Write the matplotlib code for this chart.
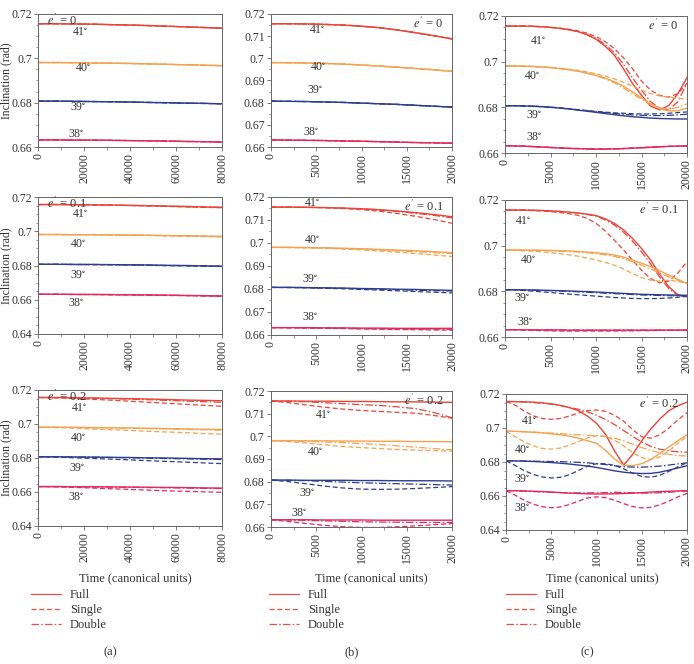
import matplotlib
matplotlib.use("Agg")
import matplotlib.pyplot as plt
from matplotlib.lines import Line2D
from matplotlib.ticker import MultipleLocator, FuncFormatter

plt.rcParams['font.family'] = ['Liberation Serif', 'DejaVu Serif']
plt.rcParams['mathtext.fontset'] = 'stix'

# ---------------- data ----------------
INCLINATIONS = ['41', '40', '39', '38']
ECCENTRICITIES = ['0', '0.1', '0.2']
MODELS = ['Full', 'Single', 'Double']
COLUMN_TAGS = ['(a)', '(b)', '(c)']

T_A = [0, 8000, 16000, 24000, 32000, 40000, 48000, 56000, 64000, 72000, 80000]
T_B = [0, 2000, 4000, 6000, 8000, 10000, 12000, 14000, 16000, 18000, 20000]
T_C = [0, 1000, 2000, 3000, 4000, 5000, 6000, 7000, 8000, 9000, 10000,
       11000, 12000, 13000, 14000, 15000, 16000, 17000, 18000, 19000, 20000]

# column (a), e' = 0
A0_FULL = [[0.7156, 0.7156, 0.7155, 0.7154, 0.7152, 0.7150, 0.7148, 0.7145, 0.7142, 0.7139, 0.7136],
           [0.6981, 0.6981, 0.6980, 0.6979, 0.6978, 0.6977, 0.6975, 0.6973, 0.6971, 0.6969, 0.6967],
           [0.6807, 0.6807, 0.6806, 0.6805, 0.6804, 0.6803, 0.6801, 0.6800, 0.6798, 0.6797, 0.6795],
           [0.6632, 0.6632, 0.6631, 0.6631, 0.6630, 0.6629, 0.6628, 0.6627, 0.6625, 0.6624, 0.6622]]
A0_SINGLE = [[0.7156, 0.7156, 0.7155, 0.7154, 0.7152, 0.7150, 0.7147, 0.7145, 0.7142, 0.7139, 0.7136],
             [0.6981, 0.6981, 0.6980, 0.6979, 0.6978, 0.6976, 0.6975, 0.6973, 0.6971, 0.6969, 0.6967],
             [0.6807, 0.6807, 0.6806, 0.6805, 0.6804, 0.6802, 0.6801, 0.6799, 0.6798, 0.6796, 0.6795],
             [0.6632, 0.6632, 0.6631, 0.6631, 0.6630, 0.6629, 0.6628, 0.6626, 0.6625, 0.6624, 0.6622]]
A0_DOUBLE = [[0.7156, 0.7156, 0.7155, 0.7154, 0.7152, 0.7150, 0.7148, 0.7145, 0.7142, 0.7139, 0.7136],
             [0.6981, 0.6981, 0.6980, 0.6979, 0.6978, 0.6977, 0.6975, 0.6973, 0.6971, 0.6969, 0.6967],
             [0.6807, 0.6807, 0.6806, 0.6805, 0.6804, 0.6803, 0.6801, 0.6800, 0.6798, 0.6797, 0.6795],
             [0.6632, 0.6632, 0.6631, 0.6631, 0.6630, 0.6629, 0.6628, 0.6627, 0.6625, 0.6624, 0.6622]]

# column (a), e' = 0.1
A1_FULL = [[0.7156, 0.7156, 0.7155, 0.7154, 0.7153, 0.7151, 0.7149, 0.7147, 0.7145, 0.7142, 0.7140],
           [0.6981, 0.6981, 0.6980, 0.6980, 0.6979, 0.6978, 0.6977, 0.6975, 0.6974, 0.6972, 0.6970],
           [0.6807, 0.6807, 0.6806, 0.6806, 0.6805, 0.6804, 0.6803, 0.6801, 0.6800, 0.6798, 0.6796],
           [0.6632, 0.6632, 0.6631, 0.6631, 0.6630, 0.6629, 0.6628, 0.6627, 0.6625, 0.6624, 0.6622]]
A1_SINGLE = [[0.7156, 0.7156, 0.7155, 0.7154, 0.7152, 0.7150, 0.7148, 0.7145, 0.7142, 0.7140, 0.7137],
             [0.6981, 0.6981, 0.6980, 0.6979, 0.6978, 0.6977, 0.6975, 0.6973, 0.6971, 0.6969, 0.6967],
             [0.6807, 0.6807, 0.6806, 0.6805, 0.6804, 0.6803, 0.6801, 0.6799, 0.6798, 0.6796, 0.6794],
             [0.6632, 0.6632, 0.6631, 0.6630, 0.6629, 0.6628, 0.6627, 0.6625, 0.6624, 0.6622, 0.6620]]
A1_DOUBLE = [[0.7156, 0.7156, 0.7155, 0.7154, 0.7153, 0.7151, 0.7149, 0.7146, 0.7144, 0.7141, 0.7139],
             [0.6981, 0.6981, 0.6980, 0.6980, 0.6979, 0.6977, 0.6976, 0.6974, 0.6973, 0.6971, 0.6969],
             [0.6807, 0.6807, 0.6806, 0.6806, 0.6805, 0.6803, 0.6802, 0.6800, 0.6799, 0.6797, 0.6795],
             [0.6632, 0.6632, 0.6631, 0.6631, 0.6630, 0.6629, 0.6628, 0.6626, 0.6625, 0.6623, 0.6621]]

# column (a), e' = 0.2
A2_FULL = [[0.7156, 0.7156, 0.7155, 0.7153, 0.7151, 0.7149, 0.7147, 0.7144, 0.7141, 0.7139, 0.7137],
           [0.6981, 0.6981, 0.6980, 0.6979, 0.6978, 0.6977, 0.6975, 0.6973, 0.6971, 0.6969, 0.6968],
           [0.6807, 0.6807, 0.6806, 0.6805, 0.6804, 0.6803, 0.6801, 0.6800, 0.6798, 0.6796, 0.6795],
           [0.6632, 0.6632, 0.6631, 0.6631, 0.6630, 0.6629, 0.6628, 0.6627, 0.6626, 0.6624, 0.6623]]
A2_SINGLE = [[0.7156, 0.7154, 0.7150, 0.7145, 0.7140, 0.7134, 0.7128, 0.7122, 0.7116, 0.7110, 0.7104],
             [0.6981, 0.6979, 0.6975, 0.6970, 0.6966, 0.6962, 0.6957, 0.6953, 0.6949, 0.6944, 0.6940],
             [0.6807, 0.6805, 0.6801, 0.6797, 0.6793, 0.6789, 0.6784, 0.6780, 0.6776, 0.6771, 0.6767],
             [0.6632, 0.6630, 0.6627, 0.6623, 0.6619, 0.6615, 0.6611, 0.6607, 0.6604, 0.6601, 0.6598]]
A2_DOUBLE = [[0.7156, 0.7155, 0.7154, 0.7152, 0.7149, 0.7146, 0.7143, 0.7139, 0.7135, 0.7131, 0.7128],
             [0.6981, 0.6981, 0.6980, 0.6978, 0.6977, 0.6975, 0.6973, 0.6971, 0.6968, 0.6966, 0.6963],
             [0.6807, 0.6807, 0.6806, 0.6805, 0.6803, 0.6801, 0.6799, 0.6797, 0.6795, 0.6793, 0.6791],
             [0.6632, 0.6632, 0.6631, 0.6630, 0.6629, 0.6628, 0.6626, 0.6625, 0.6623, 0.6622, 0.6620]]

# column (b), e' = 0
B0_FULL = [[0.7156, 0.7156, 0.7155, 0.7153, 0.7150, 0.7145, 0.7138, 0.7128, 0.7115, 0.7102, 0.7088],
           [0.6981, 0.6980, 0.6979, 0.6977, 0.6974, 0.6970, 0.6965, 0.6960, 0.6954, 0.6948, 0.6942],
           [0.6807, 0.6806, 0.6805, 0.6803, 0.6801, 0.6798, 0.6795, 0.6792, 0.6788, 0.6784, 0.6780],
           [0.6632, 0.6631, 0.6630, 0.6629, 0.6627, 0.6626, 0.6624, 0.6622, 0.6620, 0.6619, 0.6617]]
B0_SINGLE = [[0.7156, 0.7156, 0.7155, 0.7153, 0.7150, 0.7145, 0.7138, 0.7128, 0.7116, 0.7102, 0.7087],
             [0.6981, 0.6980, 0.6979, 0.6977, 0.6974, 0.6970, 0.6965, 0.6960, 0.6954, 0.6948, 0.6941],
             [0.6807, 0.6806, 0.6805, 0.6803, 0.6801, 0.6798, 0.6795, 0.6792, 0.6788, 0.6784, 0.6780],
             [0.6632, 0.6631, 0.6630, 0.6629, 0.6627, 0.6626, 0.6624, 0.6622, 0.6620, 0.6619, 0.6617]]
B0_DOUBLE = [[0.7156, 0.7156, 0.7155, 0.7153, 0.7150, 0.7145, 0.7138, 0.7128, 0.7115, 0.7102, 0.7088],
             [0.6981, 0.6980, 0.6979, 0.6977, 0.6974, 0.6970, 0.6965, 0.6960, 0.6954, 0.6948, 0.6942],
             [0.6807, 0.6806, 0.6805, 0.6803, 0.6801, 0.6798, 0.6795, 0.6792, 0.6788, 0.6784, 0.6780],
             [0.6632, 0.6631, 0.6630, 0.6629, 0.6627, 0.6626, 0.6624, 0.6622, 0.6620, 0.6619, 0.6617]]

# column (b), e' = 0.1
B1_FULL = [[0.7156, 0.7156, 0.7155, 0.7154, 0.7152, 0.7149, 0.7145, 0.7139, 0.7132, 0.7124, 0.7114],
           [0.6981, 0.6981, 0.6980, 0.6979, 0.6977, 0.6975, 0.6972, 0.6969, 0.6966, 0.6962, 0.6958],
           [0.6807, 0.6807, 0.6806, 0.6805, 0.6804, 0.6802, 0.6801, 0.6799, 0.6798, 0.6796, 0.6794],
           [0.6632, 0.6632, 0.6632, 0.6631, 0.6631, 0.6630, 0.6630, 0.6629, 0.6629, 0.6629, 0.6629]]
B1_SINGLE = [[0.7156, 0.7156, 0.7155, 0.7153, 0.7150, 0.7145, 0.7138, 0.7128, 0.7116, 0.7102, 0.7086],
             [0.6981, 0.6980, 0.6979, 0.6977, 0.6974, 0.6970, 0.6965, 0.6960, 0.6954, 0.6948, 0.6941],
             [0.6807, 0.6806, 0.6805, 0.6803, 0.6801, 0.6798, 0.6795, 0.6792, 0.6789, 0.6786, 0.6783],
             [0.6632, 0.6631, 0.6630, 0.6629, 0.6628, 0.6626, 0.6625, 0.6624, 0.6623, 0.6622, 0.6621]]
B1_DOUBLE = [[0.7156, 0.7156, 0.7155, 0.7154, 0.7151, 0.7148, 0.7143, 0.7137, 0.7129, 0.7120, 0.7109],
             [0.6981, 0.6981, 0.6980, 0.6978, 0.6976, 0.6973, 0.6970, 0.6966, 0.6962, 0.6958, 0.6954],
             [0.6807, 0.6807, 0.6806, 0.6804, 0.6803, 0.6801, 0.6799, 0.6797, 0.6795, 0.6793, 0.6791],
             [0.6632, 0.6632, 0.6631, 0.6630, 0.6629, 0.6628, 0.6627, 0.6626, 0.6626, 0.6625, 0.6625]]

# column (b), e' = 0.2
B2_FULL = [[0.7156, 0.7156, 0.7155, 0.7155, 0.7154, 0.7154, 0.7153, 0.7152, 0.7152, 0.7151, 0.7150],
           [0.6981, 0.6981, 0.6980, 0.6980, 0.6979, 0.6979, 0.6978, 0.6978, 0.6977, 0.6977, 0.6976],
           [0.6807, 0.6807, 0.6806, 0.6806, 0.6806, 0.6805, 0.6805, 0.6804, 0.6804, 0.6804, 0.6803],
           [0.6632, 0.6632, 0.6632, 0.6631, 0.6631, 0.6631, 0.6630, 0.6630, 0.6630, 0.6630, 0.6630]]
B2_SINGLE = [[0.7156, 0.7148, 0.7138, 0.7128, 0.7120, 0.7114, 0.7110, 0.7106, 0.7102, 0.7092, 0.7080],
             [0.6981, 0.6977, 0.6970, 0.6962, 0.6955, 0.6950, 0.6946, 0.6942, 0.6939, 0.6937, 0.6935],
             [0.6807, 0.6800, 0.6790, 0.6780, 0.6772, 0.6767, 0.6766, 0.6767, 0.6770, 0.6774, 0.6778],
             [0.6632, 0.6624, 0.6615, 0.6607, 0.6601, 0.6598, 0.6598, 0.6601, 0.6605, 0.6610, 0.6615]]
B2_DOUBLE = [[0.7156, 0.7155, 0.7152, 0.7148, 0.7144, 0.7140, 0.7136, 0.7130, 0.7122, 0.7105, 0.7082],
             [0.6981, 0.6980, 0.6978, 0.6975, 0.6972, 0.6968, 0.6964, 0.6958, 0.6952, 0.6946, 0.6940],
             [0.6807, 0.6806, 0.6804, 0.6801, 0.6798, 0.6795, 0.6793, 0.6791, 0.6789, 0.6787, 0.6785],
             [0.6632, 0.6631, 0.6629, 0.6627, 0.6625, 0.6623, 0.6622, 0.6621, 0.6620, 0.6620, 0.6620]]

# column (c), e' = 0
C0_FULL = [[0.7156, 0.7156, 0.7156, 0.7155, 0.7153, 0.7150, 0.7146, 0.7140, 0.7132, 0.7118, 0.7098,
            0.7068, 0.7029, 0.6970, 0.6905, 0.6853, 0.6805, 0.6789, 0.6808, 0.6860, 0.6930],
           [0.6981, 0.6981, 0.6980, 0.6979, 0.6977, 0.6974, 0.6970, 0.6965, 0.6959, 0.6950, 0.6940,
            0.6928, 0.6913, 0.6893, 0.6868, 0.6842, 0.6815, 0.6794, 0.6784, 0.6785, 0.6797],
           [0.6807, 0.6807, 0.6806, 0.6805, 0.6803, 0.6800, 0.6797, 0.6793, 0.6788, 0.6783, 0.6778,
            0.6773, 0.6768, 0.6763, 0.6759, 0.6756, 0.6753, 0.6751, 0.6750, 0.6749, 0.6749],
           [0.6632, 0.6631, 0.6630, 0.6628, 0.6626, 0.6624, 0.6622, 0.6620, 0.6619, 0.6618, 0.6617,
            0.6617, 0.6618, 0.6619, 0.6621, 0.6623, 0.6625, 0.6627, 0.6629, 0.6630, 0.6631]]
C0_SINGLE = [[0.7156, 0.7156, 0.7156, 0.7155, 0.7153, 0.7150, 0.7147, 0.7142, 0.7135, 0.7125, 0.7110,
              0.7088, 0.7058, 0.7018, 0.6970, 0.6915, 0.6875, 0.6852, 0.6845, 0.6860, 0.6905],
             [0.6981, 0.6981, 0.6980, 0.6979, 0.6977, 0.6974, 0.6971, 0.6967, 0.6962, 0.6955, 0.6947,
              0.6937, 0.6925, 0.6910, 0.6893, 0.6875, 0.6860, 0.6850, 0.6844, 0.6840, 0.6836],
             [0.6807, 0.6807, 0.6806, 0.6805, 0.6803, 0.6801, 0.6798, 0.6794, 0.6790, 0.6786, 0.6782,
              0.6779, 0.6776, 0.6774, 0.6772, 0.6771, 0.6771, 0.6772, 0.6774, 0.6777, 0.6780],
             [0.6632, 0.6631, 0.6630, 0.6629, 0.6627, 0.6625, 0.6623, 0.6621, 0.6620, 0.6619, 0.6618,
              0.6618, 0.6619, 0.6620, 0.6622, 0.6624, 0.6626, 0.6628, 0.6629, 0.6630, 0.6631]]
C0_DOUBLE = [[0.7156, 0.7156, 0.7156, 0.7155, 0.7153, 0.7150, 0.7146, 0.7140, 0.7132, 0.7120, 0.7102,
              0.7075, 0.7040, 0.6990, 0.6930, 0.6875, 0.6825, 0.6795, 0.6790, 0.6825, 0.6905],
             [0.6981, 0.6981, 0.6980, 0.6979, 0.6977, 0.6974, 0.6970, 0.6965, 0.6958, 0.6949, 0.6938,
              0.6925, 0.6908, 0.6885, 0.6860, 0.6835, 0.6812, 0.6798, 0.6792, 0.6800, 0.6815],
             [0.6807, 0.6807, 0.6806, 0.6805, 0.6803, 0.6800, 0.6797, 0.6793, 0.6789, 0.6785, 0.6781,
              0.6777, 0.6773, 0.6770, 0.6767, 0.6765, 0.6764, 0.6764, 0.6765, 0.6767, 0.6770],
             [0.6632, 0.6631, 0.6630, 0.6628, 0.6626, 0.6624, 0.6622, 0.6620, 0.6619, 0.6618, 0.6617,
              0.6617, 0.6618, 0.6619, 0.6621, 0.6623, 0.6625, 0.6627, 0.6629, 0.6630, 0.6631]]

# column (c), e' = 0.1
C1_FULL = [[0.7156, 0.7156, 0.7156, 0.7155, 0.7154, 0.7152, 0.7150, 0.7147, 0.7143, 0.7138, 0.7132,
            0.7118, 0.7098, 0.7070, 0.7032, 0.6988, 0.6937, 0.6875, 0.6820, 0.6785, 0.6776],
           [0.6981, 0.6981, 0.6981, 0.6980, 0.6980, 0.6979, 0.6978, 0.6977, 0.6975, 0.6972, 0.6969,
            0.6965, 0.6959, 0.6950, 0.6937, 0.6923, 0.6908, 0.6890, 0.6871, 0.6852, 0.6834],
           [0.6807, 0.6807, 0.6806, 0.6806, 0.6805, 0.6804, 0.6803, 0.6802, 0.6800, 0.6799, 0.6797,
            0.6795, 0.6793, 0.6791, 0.6789, 0.6787, 0.6786, 0.6785, 0.6784, 0.6783, 0.6783],
           [0.6632, 0.6632, 0.6632, 0.6631, 0.6631, 0.6631, 0.6631, 0.6630, 0.6630, 0.6630, 0.6630,
            0.6630, 0.6630, 0.6630, 0.6630, 0.6630, 0.6630, 0.6630, 0.6630, 0.6630, 0.6630]]
C1_SINGLE = [[0.7156, 0.7156, 0.7155, 0.7154, 0.7152, 0.7149, 0.7145, 0.7140, 0.7133, 0.7120, 0.7098,
              0.7065, 0.7025, 0.6982, 0.6937, 0.6893, 0.6856, 0.6837, 0.6845, 0.6880, 0.6930],
             [0.6981, 0.6980, 0.6978, 0.6976, 0.6973, 0.6969, 0.6965, 0.6960, 0.6954, 0.6946, 0.6937,
              0.6927, 0.6915, 0.6898, 0.6878, 0.6860, 0.6849, 0.6845, 0.6849, 0.6843, 0.6836],
             [0.6807, 0.6806, 0.6804, 0.6801, 0.6798, 0.6795, 0.6791, 0.6788, 0.6785, 0.6782, 0.6779,
              0.6776, 0.6773, 0.6771, 0.6769, 0.6768, 0.6768, 0.6769, 0.6771, 0.6774, 0.6778],
             [0.6632, 0.6631, 0.6630, 0.6629, 0.6628, 0.6627, 0.6626, 0.6626, 0.6626, 0.6626, 0.6626,
              0.6626, 0.6626, 0.6627, 0.6627, 0.6628, 0.6628, 0.6629, 0.6629, 0.6630, 0.6630]]
C1_DOUBLE = [[0.7156, 0.7156, 0.7156, 0.7155, 0.7154, 0.7152, 0.7150, 0.7147, 0.7143, 0.7137, 0.7129,
              0.7113, 0.7091, 0.7060, 0.7020, 0.6973, 0.6920, 0.6862, 0.6812, 0.6782, 0.6778],
             [0.6981, 0.6981, 0.6980, 0.6980, 0.6979, 0.6978, 0.6976, 0.6974, 0.6972, 0.6969, 0.6965,
              0.6960, 0.6953, 0.6943, 0.6930, 0.6915, 0.6898, 0.6880, 0.6863, 0.6848, 0.6838],
             [0.6807, 0.6807, 0.6806, 0.6805, 0.6804, 0.6803, 0.6801, 0.6800, 0.6798, 0.6796, 0.6794,
              0.6792, 0.6790, 0.6788, 0.6786, 0.6784, 0.6783, 0.6782, 0.6781, 0.6780, 0.6780],
             [0.6632, 0.6632, 0.6632, 0.6631, 0.6631, 0.6631, 0.6631, 0.6630, 0.6630, 0.6630, 0.6630,
              0.6630, 0.6630, 0.6630, 0.6630, 0.6630, 0.6630, 0.6630, 0.6630, 0.6630, 0.6630]]

# column (c), e' = 0.2
C2_FULL = [[0.7156, 0.7155, 0.7154, 0.7152, 0.7148, 0.7142, 0.7133, 0.7120, 0.7102, 0.7070, 0.7028,
            0.6962, 0.6865, 0.6782, 0.6845, 0.6925, 0.6994, 0.7053, 0.7102, 0.7131, 0.7152],
           [0.6981, 0.6980, 0.6978, 0.6975, 0.6971, 0.6966, 0.6960, 0.6952, 0.6940, 0.6925, 0.6910,
            0.6868, 0.6818, 0.6780, 0.6778, 0.6790, 0.6815, 0.6850, 0.6888, 0.6925, 0.6960],
           [0.6807, 0.6806, 0.6805, 0.6803, 0.6800, 0.6797, 0.6793, 0.6788, 0.6782, 0.6776, 0.6768,
            0.6758, 0.6748, 0.6740, 0.6735, 0.6732, 0.6733, 0.6740, 0.6752, 0.6765, 0.6778],
           [0.6632, 0.6631, 0.6630, 0.6628, 0.6626, 0.6623, 0.6620, 0.6617, 0.6615, 0.6613, 0.6612,
            0.6612, 0.6613, 0.6615, 0.6617, 0.6620, 0.6623, 0.6626, 0.6628, 0.6630, 0.6631]]
C2_SINGLE = [[0.7156, 0.7135, 0.7100, 0.7072, 0.7056, 0.7051, 0.7056, 0.7070, 0.7088, 0.7102, 0.7106,
              0.7098, 0.7075, 0.7040, 0.6990, 0.6948, 0.6940, 0.6960, 0.7000, 0.7048, 0.7090],
             [0.6981, 0.6950, 0.6918, 0.6895, 0.6880, 0.6876, 0.6882, 0.6898, 0.6920, 0.6942, 0.6955,
              0.6950, 0.6928, 0.6895, 0.6855, 0.6825, 0.6815, 0.6830, 0.6865, 0.6910, 0.6950],
             [0.6807, 0.6780, 0.6750, 0.6727, 0.6712, 0.6706, 0.6710, 0.6725, 0.6750, 0.6775, 0.6790,
              0.6790, 0.6780, 0.6760, 0.6735, 0.6715, 0.6710, 0.6722, 0.6745, 0.6772, 0.6796],
             [0.6632, 0.6605, 0.6575, 0.6552, 0.6537, 0.6531, 0.6535, 0.6550, 0.6570, 0.6588, 0.6595,
              0.6590, 0.6575, 0.6555, 0.6538, 0.6530, 0.6533, 0.6548, 0.6570, 0.6595, 0.6615]]
C2_DOUBLE = [[0.7156, 0.7155, 0.7153, 0.7150, 0.7146, 0.7140, 0.7132, 0.7122, 0.7110, 0.7095, 0.7075,
              0.7050, 0.7020, 0.6985, 0.6950, 0.6918, 0.6892, 0.6875, 0.6865, 0.6860, 0.6858],
             [0.6981, 0.6980, 0.6978, 0.6976, 0.6973, 0.6970, 0.6967, 0.6963, 0.6960, 0.6957, 0.6955,
              0.6950, 0.6940, 0.6925, 0.6905, 0.6885, 0.6868, 0.6855, 0.6845, 0.6838, 0.6835],
             [0.6807, 0.6807, 0.6806, 0.6805, 0.6804, 0.6803, 0.6802, 0.6800, 0.6798, 0.6795, 0.6790,
              0.6785, 0.6778, 0.6772, 0.6770, 0.6770, 0.6772, 0.6776, 0.6782, 0.6789, 0.6795],
             [0.6632, 0.6630, 0.6628, 0.6626, 0.6624, 0.6622, 0.6620, 0.6619, 0.6618, 0.6618, 0.6619,
              0.6620, 0.6622, 0.6621, 0.6619, 0.6617, 0.6617, 0.6619, 0.6622, 0.6626, 0.6630]]

# ---------------- style ----------------
COLORS = ['#e8443a', '#f5a24e', '#2e3d8e', '#e2295e']
LEGEND_COLOR = '#e6504f'
STYLES = {'Full': '-', 'Single': (0, (4.0, 2.2)), 'Double': (0, (6.0, 1.8, 1.2, 1.8))}
W, H = 694, 664

fig = plt.figure(figsize=(W / 100, H / 100), dpi=100)

def frac(left, top, width, bottom):
    return [left / W, 1 - bottom / H, width / W, (bottom - top) / H]

POS = {
    (0, 0): frac(38, 14, 184, 147), (1, 0): frac(38, 197, 184, 334), (2, 0): frac(38, 390, 184, 526),
    (0, 1): frac(271, 14, 181, 147), (1, 1): frac(271, 197, 181, 335), (2, 1): frac(271, 391, 181, 527),
    (0, 2): frac(505, 16, 182, 153), (1, 2): frac(505, 200, 182, 337), (2, 2): frac(506, 394, 181, 530),
}

PANELS = {
    (0, 0): (T_A, A0_FULL, A0_SINGLE, A0_DOUBLE),
    (1, 0): (T_A, A1_FULL, A1_SINGLE, A1_DOUBLE),
    (2, 0): (T_A, A2_FULL, A2_SINGLE, A2_DOUBLE),
    (0, 1): (T_B, B0_FULL, B0_SINGLE, B0_DOUBLE),
    (1, 1): (T_B, B1_FULL, B1_SINGLE, B1_DOUBLE),
    (2, 1): (T_B, B2_FULL, B2_SINGLE, B2_DOUBLE),
    (0, 2): (T_C, C0_FULL, C0_SINGLE, C0_DOUBLE),
    (1, 2): (T_C, C1_FULL, C1_SINGLE, C1_DOUBLE),
    (2, 2): (T_C, C2_FULL, C2_SINGLE, C2_DOUBLE),
}

# label positions (axes fraction) for 41,40,39,38
LABEL_POS = {
    (0, 0): [(0.23, 0.865), (0.245, 0.594), (0.217, 0.30), (0.207, 0.098)],
    (1, 0): [(0.23, 0.876), (0.22, 0.657), (0.217, 0.43), (0.21, 0.226)],
    (2, 0): [(0.223, 0.868), (0.217, 0.647), (0.212, 0.426), (0.207, 0.213)],
    (0, 1): [(0.254, 0.88), (0.26, 0.60), (0.243, 0.43), (0.22, 0.11)],
    (1, 1): [(0.23, 0.96), (0.23, 0.69), (0.215, 0.405), (0.215, 0.13)],
    (2, 1): [(0.29, 0.82), (0.243, 0.55), (0.20, 0.25), (0.155, 0.10)],
    (0, 2): [(0.18, 0.82), (0.152, 0.56), (0.158, 0.28), (0.158, 0.12)],
    (1, 2): [(0.10, 0.85), (0.125, 0.56), (0.097, 0.285), (0.11, 0.11)],
    (2, 2): [(0.13, 0.80), (0.09, 0.59), (0.09, 0.375), (0.087, 0.16)],
}

SPINE = '#666666'
TXT = '#333333'

for (r, c), (t, full, single, double) in PANELS.items():
    ax = fig.add_axes(POS[(r, c)])
    for i in range(4):
        ax.plot(t, single[i], color=COLORS[i], lw=0.9, linestyle=STYLES['Single'])
        ax.plot(t, double[i], color=COLORS[i], lw=0.9, linestyle=STYLES['Double'])
        ax.plot(t, full[i], color=COLORS[i], lw=1.0, linestyle=STYLES['Full'])
    if c == 0:
        ax.set_xlim(0, 80000)
        ax.xaxis.set_major_locator(MultipleLocator(20000))
        ax.xaxis.set_minor_locator(MultipleLocator(10000))
    else:
        ax.set_xlim(0, 20000)
        ax.xaxis.set_major_locator(MultipleLocator(5000))
        ax.xaxis.set_minor_locator(MultipleLocator(2500))
    if c == 1:
        ax.set_ylim(0.66, 0.72)
        ax.yaxis.set_major_locator(MultipleLocator(0.01))
        ax.yaxis.set_minor_locator(MultipleLocator(0.005))
    else:
        low = 0.66 if (r == 0 or (c == 2 and r == 1)) else 0.64
        ax.set_ylim(low, 0.72)
        ax.yaxis.set_major_locator(MultipleLocator(0.02))
        ax.yaxis.set_minor_locator(MultipleLocator(0.005))
    ax.yaxis.set_major_formatter(FuncFormatter(lambda v, p: ('%.2f' % v).rstrip('0')))
    ax.xaxis.set_major_formatter(FuncFormatter(lambda v, p: '%d' % v))
    ax.tick_params(axis='both', which='major', direction='out', length=3, width=0.6,
                   colors=SPINE, labelcolor=TXT, labelsize=8.5, pad=1.5)
    ax.tick_params(axis='both', which='minor', direction='out', length=1.8, width=0.5, colors=SPINE)
    ax.tick_params(axis='x', which='major', labelrotation=90)
    for s in ax.spines.values():
        s.set_color(SPINE)
        s.set_linewidth(0.7)
    for i, (fx, fy) in enumerate(LABEL_POS[(r, c)]):
        ax.text(fx, fy, INCLINATIONS[i] + r'$^{\circ}$', transform=ax.transAxes,
                ha='center', va='center', fontsize=8.5, color=TXT)
    etxt = r"$e'$ = " + ECCENTRICITIES[r]
    if c == 0:
        ax.text(0.05, 0.955, etxt, transform=ax.transAxes, ha='left', va='center',
                fontsize=9, color=TXT)
    else:
        ax.text(0.955, 0.93, etxt, transform=ax.transAxes, ha='right', va='center',
                fontsize=9, color=TXT)
    if c == 0:
        ax.set_ylabel('Inclination (rad)', fontsize=8.5, color=TXT)
        ax.yaxis.set_label_coords(-0.14, 0.5)

# x labels, legends and column tags
XLAB_X = [135, 371, 602]
LEG_X = [31, 269, 506]
for c in range(3):
    fig.text(XLAB_X[c] / W, 1 - 578 / H, 'Time (canonical units)', ha='center', va='center',
             fontsize=9, color=TXT)
    handles = [Line2D([], [], color=LEGEND_COLOR, lw=0.9, linestyle=STYLES[m]) for m in MODELS]
    fig.legend(handles, MODELS, loc='upper left', bbox_to_anchor=(LEG_X[c] / W, 1 - 589 / H),
               frameon=False, fontsize=9, handlelength=2.4, handletextpad=0.7,
               labelspacing=0.25, borderpad=0, borderaxespad=0, labelcolor=TXT)
    fig.text([110, 352, 587][c] / W, 1 - 652 / H, COLUMN_TAGS[c], ha='center', va='center',
             fontsize=9, color=TXT)

fig.savefig('out.png', dpi=100)
